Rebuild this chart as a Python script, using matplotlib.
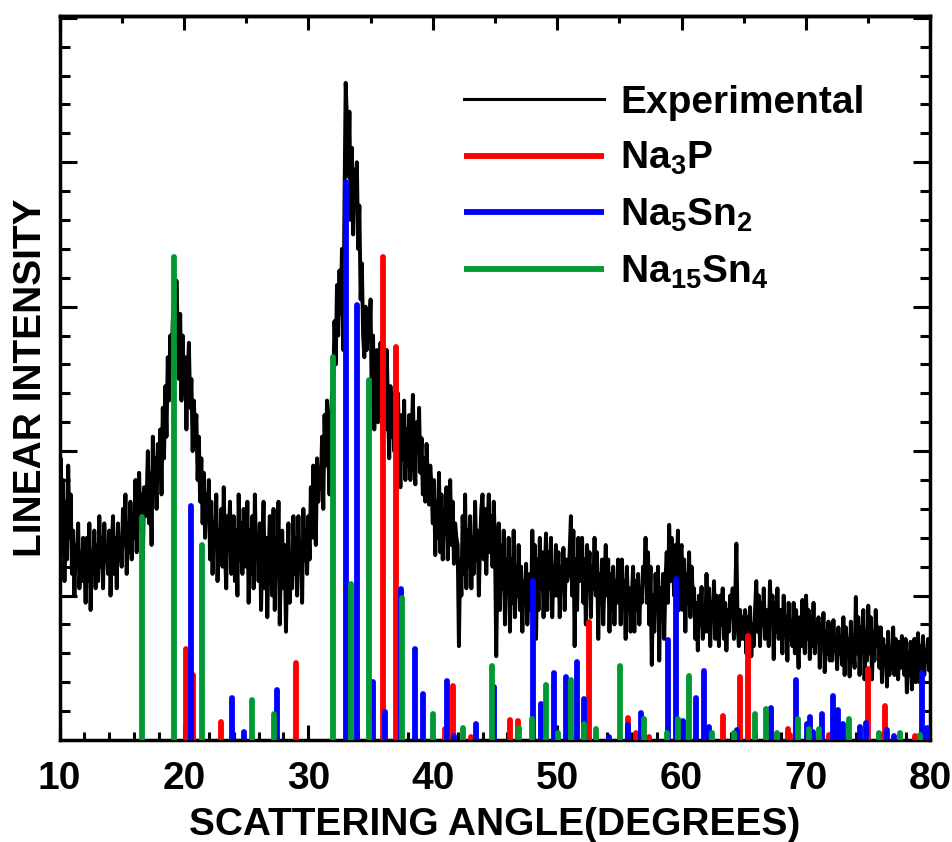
import numpy as np
import matplotlib
matplotlib.use('Agg')
import matplotlib.pyplot as plt
from matplotlib.ticker import MultipleLocator

plt.rcParams['font.family'] = ['Liberation Sans', 'DejaVu Sans']
plt.rcParams['font.weight'] = 'bold'
plt.rcParams['mathtext.fontset'] = 'custom'
plt.rcParams['mathtext.rm'] = 'Liberation Sans:bold'
plt.rcParams['mathtext.default'] = 'rm'

FS = 28

# measured pattern, 10-80 deg in 0.1 deg steps (one row per degree)
two_theta = np.arange(10, 80.001, 0.1)
intensity = [
    1500, 1950, 1300, 1800, 1100, 1650, 1250, 1900, 1400, 1700,
    1150, 1450, 1000, 1350, 1200, 1500, 1050, 1300, 1100, 1400,
    1250, 950, 1400, 1100, 1500, 900, 1300, 1150, 1450, 1050,
    1350, 1100, 1550, 1200, 1400, 1050, 1500, 1250, 1350, 1150,
    1450, 1000, 1300, 1550, 1150, 1400, 1050, 1500, 1250, 1350,
    1200, 1600, 1350, 1700, 1150, 1500, 1300, 1650, 1250, 1550,
    1400, 1800, 1300, 1650, 1850, 1450, 1700, 1250, 1750, 1550,
    1650, 2000, 1500, 1850, 1350, 2100, 1700, 1950, 1600, 2050,
    1800, 2150, 1700, 2300, 1950, 2450, 2100, 2650, 2350, 2800,
    2600, 2900, 3050, 2750, 3180, 2850, 2500, 2950, 2350, 2800,
    2400, 2650, 2150, 2550, 2750, 2300, 2500, 2000, 2350, 2100,
    2250, 1800, 2100, 1650, 1950, 1500, 1850, 1400, 1700, 1550,
    1800, 1250, 1650, 1150, 1500, 1350, 1700, 1100, 1450, 1250,
    1600, 1200, 1750, 1300, 1050, 1550, 1350, 1650, 1150, 1400,
    1550, 1100, 1450, 1000, 1700, 1250, 1500, 1150, 1600, 1300,
    1200, 1650, 950, 1450, 1150, 1550, 1050, 1700, 1300, 1400,
    1100, 1500, 900, 1350, 1650, 1050, 1400, 850, 1250, 1550,
    1300, 1000, 1600, 900, 1400, 1150, 1650, 800, 1250, 1450,
    1050, 1350, 750, 1200, 1500, 950, 1300, 1050, 1550, 1150,
    1400, 1000, 1550, 1200, 1350, 950, 1600, 1250, 1450, 1150,
    1550, 1250, 1750, 1400, 1900, 1550, 1350, 1950, 1650, 1800,
    1750, 2100, 1600, 2250, 1900, 2350, 2000, 1700, 2200, 2400,
    2450, 2900, 2600, 3150, 2800, 3250, 2950, 3400, 2700, 3700,
    4550, 4300, 3900, 4350, 3600, 4100, 3500, 3950, 3750, 4000,
    3400, 3700, 3050, 3300, 2800, 2650, 3000, 2700, 2950, 2800,
    3050, 2300, 2800, 2150, 2600, 2700, 2200, 2500, 2750, 2350,
    2050, 2550, 2150, 2700, 2300, 1950, 2450, 2100, 2400, 2000,
    2300, 1850, 2400, 2000, 1750, 2250, 1950, 2350, 1800, 2150,
    1900, 2250, 1800, 2100, 2390, 1950, 1770, 2200, 2000, 2300,
    1850, 2090, 1700, 1950, 1650, 2050, 1800, 1630, 1900, 1750,
    1500, 1800, 1280, 1650, 1400, 1850, 1300, 1700, 1250, 1600,
    1450, 1750, 1250, 1550, 1800, 1350, 1650, 1220, 1500, 1400,
    1350, 650, 1250, 1000, 1550, 1150, 1700, 1050, 1450, 1200,
    1550, 1050, 1400, 1150, 1650, 1250, 1450, 1000, 1350, 1600,
    1700, 1250, 1600, 1150, 1450, 1700, 1300, 1550, 1200, 1650,
    1350, 580, 1200, 1500, 900, 1350, 1050, 1450, 800, 1250,
    1050, 1400, 750, 1250, 950, 1450, 850, 1200, 1000, 1350,
    900, 1200, 750, 1100, 950, 1220, 800, 1050, 1150, 900,
    1450, 1000, 1350, 700, 1250, 900, 1400, 1050, 1300, 850,
    1150, 1430, 900, 1300, 1050, 1400, 850, 1200, 1000, 1350,
    1000, 1300, 850, 1200, 1050, 1330, 900, 1250, 1100, 1150,
    1300, 1550, 1000, 1450, 650, 1250, 900, 1400, 1100, 1350,
    1400, 950, 1250, 800, 1350, 1100, 1300, 850, 1200, 1050,
    1400, 1000, 1300, 700, 1150, 950, 1250, 800, 1100, 1350,
    1000, 1250, 750, 1150, 900, 1200, 800, 1100, 950, 1250,
    1150, 800, 1250, 950, 1100, 700, 1200, 900, 1050, 750,
    1000, 1200, 750, 1100, 900, 1150, 800, 1050, 950, 1200,
    1100, 1400, 950, 1300, 800, 1200, 520, 1000, 750, 1150,
    900, 1200, 550, 1050, 850, 1150, 700, 1100, 1300, 950,
    1490, 1100, 1400, 1250, 1000, 1350, 1150, 1450, 900, 1300,
    1350, 900, 1250, 750, 1150, 950, 1300, 850, 1200, 1000,
    1050, 700, 950, 620, 1000, 800, 1060, 700, 900, 750,
    1150, 750, 1050, 650, 950, 850, 1100, 700, 1000, 800,
    650, 1000, 800, 1050, 700, 950, 620, 900, 750, 1000,
    850, 1050, 700, 950, 1360, 800, 650, 900, 700, 850,
    700, 900, 600, 850, 750, 920, 580, 800, 650, 900,
    1100, 750, 1000, 650, 950, 800, 1050, 700, 900, 850,
    650, 1100, 800, 1000, 560, 950, 750, 1050, 700, 900,
    900, 600, 1000, 750, 850, 550, 950, 700, 800, 650,
    950, 600, 900, 700, 500, 850, 650, 970, 750, 600,
    1000, 700, 900, 560, 850, 650, 950, 600, 800, 700,
    850, 500, 800, 650, 880, 470, 750, 600, 820, 550,
    800, 550, 830, 620, 700, 490, 780, 600, 720, 520,
    850, 450, 780, 600, 700, 440, 820, 550, 650, 500,
    990, 600, 850, 450, 780, 650, 900, 420, 750, 550,
    930, 600, 850, 420, 750, 550, 900, 650, 780, 500,
    780, 400, 700, 550, 650, 370, 750, 450, 600, 500,
    780, 450, 700, 550, 420, 680, 500, 720, 600, 450,
    700, 330, 600, 450, 680, 350, 550, 700, 400, 620,
    740, 400, 650, 500, 720, 450, 600, 550, 700, 480,
    550,
]

# reference peak positions (deg) and heights
na3p_pos = [20.17, 20.70, 22.97, 28.99, 36.03, 37.04, 40.97, 41.65, 43.09,
            46.24, 46.86, 52.58, 55.65, 56.33, 57.40, 63.31, 64.72, 65.36,
            68.55, 68.71, 71.86, 74.99, 76.33, 78.74, 79.95]
na3p_int = [632, 450, 127, 535, 3347, 2724, 76, 376, 21,
            139, 132, 815, 150, 46, 23, 166, 434, 720,
            74, 35, 35, 490, 235, 28, 20]

na5sn2_pos = [20.54, 23.88, 24.80, 27.52, 33.03, 33.94, 35.23, 36.13, 37.42,
              38.54, 39.18, 41.11, 41.69, 43.51, 44.90, 48.03, 48.67, 49.72,
              50.68, 51.60, 52.12, 54.13, 55.65, 56.75, 58.94, 59.51, 60.15,
              61.17, 61.83, 62.19, 64.48, 67.21, 69.22, 70.05, 70.31, 70.58,
              71.25, 72.13, 72.58, 72.99, 74.33, 74.81, 76.47, 77.05, 79.28,
              79.68]
na5sn2_int = [1620, 289, 57, 346, 3866, 3012, 400, 196, 1044,
              628, 319, 411, 28, 111, 365, 1099, 249, 462,
              438, 542, 282, 23, 104, 185, 693, 1113, 132,
              293, 478, 88, 69, 220, 416, 111, 157, 55,
              180, 305, 208, 111, 88, 120, 69, 28, 462,
              83]

na15sn4_pos = [16.61, 19.18, 21.45, 25.44, 27.20, 31.99, 33.46, 34.87, 37.55,
               40.04, 42.45, 44.77, 46.91, 47.98, 49.08, 50.07, 51.08, 52.12,
               53.12, 55.07, 56.94, 58.82, 59.72, 60.63, 62.43, 64.22, 65.93,
               66.78, 67.64, 69.33, 70.21, 71.01, 73.47, 75.88, 77.54, 79.15]
na15sn4_int = [1546, 3347, 1350, 277, 178, 2654, 1080, 2493, 981,
               178, 83, 512, 81, 145, 381, 46, 416, 111,
               76, 512, 143, 46, 143, 445, 46, 46, 180,
               213, 46, 143, 76, 76, 143, 46, 46, 35]

fig = plt.figure(figsize=(9.52, 8.42), dpi=100)
ax = fig.add_axes([0.0625, 0.1211, 0.9149, 0.8595])

ax.plot(two_theta, intensity, color='black', lw=2.8, label='Experimental', zorder=2)

phases = [
    (na3p_pos, na3p_int, '#ff0000', r'Na$_3$P'),
    (na5sn2_pos, na5sn2_int, '#0000ff', r'Na$_5$Sn$_2$'),
    (na15sn4_pos, na15sn4_int, '#009933', r'Na$_{15}$Sn$_4$'),
]
for pos, inten, col, name in phases:
    lc = ax.vlines(pos, 0, inten, colors=col, lw=4.2, label=name, zorder=3)
    lc.set_capstyle('round')

ax.set_xlim(10, 80)
ax.set_ylim(0, 5010)

ax.xaxis.set_major_locator(MultipleLocator(10))
ax.xaxis.set_minor_locator(MultipleLocator(2))
ax.yaxis.set_major_locator(MultipleLocator(1000))
ax.yaxis.set_minor_locator(MultipleLocator(200))
ax.tick_params(which='both', direction='in', width=2.2, left=True, right=True,
               top=False, bottom=True, labelleft=False)
ax.tick_params(axis='x', which='major', length=11, labelsize=FS, pad=15)
ax.tick_params(axis='x', which='minor', length=6)
ax.tick_params(axis='y', which='major', length=12.5)
ax.tick_params(axis='y', which='minor', length=7)
for lbl in ax.get_xticklabels():
    lbl.set_fontweight('bold')

# top axis: major every 10, minor every 5
top = ax.secondary_xaxis('top')
top.xaxis.set_major_locator(MultipleLocator(10))
top.xaxis.set_minor_locator(MultipleLocator(5))
top.tick_params(which='both', direction='in', width=2.2, labeltop=False)
top.tick_params(which='major', length=10)
top.tick_params(which='minor', length=5)
top.spines['top'].set_linewidth(2.5)

for sp in ax.spines.values():
    sp.set_linewidth(2.5)

ax.set_xlabel('SCATTERING ANGLE(DEGREES)', fontsize=FS, fontweight='bold', labelpad=7)
ax.set_ylabel('LINEAR INTENSITY', fontsize=FS, fontweight='bold', labelpad=7.5)

leg = ax.legend(loc='upper left', bbox_to_anchor=(0.447, 0.927), frameon=False,
                fontsize=FS, handlelength=3.6, handletextpad=0.4,
                labelspacing=0.5, borderaxespad=0)
leg.get_lines()[0].set_linewidth(2.2)
for t in leg.get_texts():
    t.set_fontweight('bold')

fig.savefig('out.png', dpi=100)
